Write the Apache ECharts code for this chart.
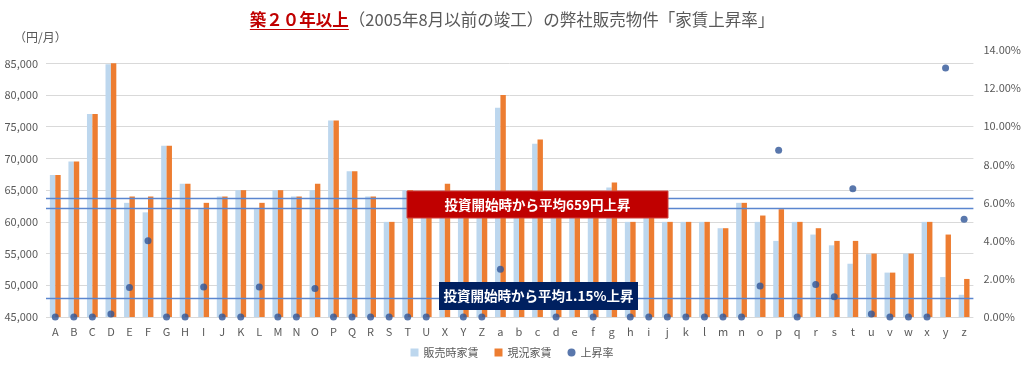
<!DOCTYPE html>
<html><head><meta charset="utf-8">
<script src="https://cdn.jsdelivr.net/npm/echarts@6/dist/echarts.min.js"></script>
<style>html,body{margin:0;padding:0;background:#fff}#c{width:1024px;height:369px}</style>
</head><body><div id="c"></div>
<script>
const categories = ['A','B','C','D','E','F','G','H','I','J','K','L','M','N','O','P','Q','R','S','T','U','X','Y','Z',
  'a','b','c','d','e','f','g','h','i','j','k','l','m','n','o','p','q','r','s','t','u','v','w','x','y','z'];
const saleRent = [67400,69500,77000,84870,63000,61500,72000,66000,62000,64000,65000,62000,65000,64000,65000,76000,68000,64000,60000,65000,63000,65000,63000,62000,
  78000,62000,72300,63000,61000,63000,65400,60000,62000,60000,60000,60000,59000,63000,60000,57000,60000,58000,56300,53400,54900,52000,55000,60000,51300,48500];
const currentRent = [67400,69500,77000,85000,64000,64000,72000,66000,63000,64000,65000,63000,65000,64000,66000,76000,68000,64000,60000,65000,63000,66000,63000,62000,
  80000,62600,73000,63000,61700,63000,66200,60000,62000,60000,60000,60000,59000,63000,61000,62000,60000,59000,57000,57000,55000,52000,55000,60000,58000,51000];
const riseRate = [0,0,0,0.16,1.55,4.0,0,0,1.57,0,0,1.57,0,0,1.5,0,0,0,0,0,0,1.5,0,0,
  2.5,1.0,1.0,0,1.1,0,1.2,0,0,0,0,0,0,0,1.62,8.75,0,1.71,1.06,6.72,0.16,0,0,0,13.05,5.12];
const seriesNames = ['販売時家賃','現況家賃','上昇率'];
const rentLines = [63700, 62200];
const rateLine = 1.0;
const titleMain = '築２０年以上';
const titleSub = '（2005年8月以前の竣工）の弊社販売物件「家賃上昇率」';
const unitLabel = '（円/月）';
const note1 = '投資開始時から平均659円上昇';
const note2 = '投資開始時から平均1.15%上昇';

const FONT = '"Noto Sans CJK JP", "Noto Sans", sans-serif';
const fontMain = 'bold 16.5px ' + FONT;
const fontSub = '16.5px ' + FONT;
const ctx = document.createElement('canvas').getContext('2d');
ctx.font = fontMain; const wMain = ctx.measureText(titleMain).width;
ctx.font = fontSub; const wSub = ctx.measureText(titleSub).width;
const tx0 = 512 - (wMain + wSub) / 2;

const chart = echarts.init(document.getElementById('c'));
const lineStyle = {color:'#5B86CF', width:1.3, type:'solid'};
chart.setOption({
  animation:false,
  textStyle:{fontFamily:FONT},
  legend:{
    data:[{name:seriesNames[0],icon:'rect'},{name:seriesNames[1],icon:'rect'},{name:seriesNames[2],icon:'circle'}],
    bottom:6, left:'center', itemWidth:8, itemHeight:8, itemGap:16,
    textStyle:{fontSize:11, color:'#595959', fontFamily:FONT}
  },
  grid:{left:46, right:48, top:50, bottom:52, containLabel:false},
  xAxis:{
    type:'category', data:categories,
    axisTick:{show:false},
    axisLine:{show:false},
    axisLabel:{color:'#595959', fontSize:11, margin:9, interval:0, fontFamily:FONT}
  },
  yAxis:[{
    type:'value', min:45000, max:87100, interval:5000,
    axisLine:{show:false}, axisTick:{show:false},
    axisLabel:{color:'#595959', fontSize:11, margin:8, showMaxLabel:false,
      formatter:v=> (v%5000===0 ? v.toLocaleString('en-US') : '')},
    splitLine:{show:true, showMaxLine:false, lineStyle:{color:'#D9D9D9', width:1}}
  },{
    type:'value', min:0, max:14, interval:2,
    axisLine:{show:false}, axisTick:{show:false},
    axisLabel:{color:'#595959', fontSize:11, margin:10, formatter:v=>v.toFixed(2)+'%'},
    splitLine:{show:false}
  }],
  series:[{
    name:seriesNames[0], type:'bar', data:saleRent, barWidth:5.4, barGap:'0%',
    itemStyle:{color:'#BDD7EE'},
    markLine:{silent:true, symbol:'none', label:{show:false}, lineStyle:lineStyle,
      data:rentLines.map(v=>({yAxis:v}))}
  },{
    name:seriesNames[1], type:'bar', data:currentRent, barWidth:5.4, barGap:'0%',
    itemStyle:{color:'#ED7D31'}
  },{
    name:seriesNames[2], type:'scatter', yAxisIndex:1, data:riseRate, symbolSize:7, z:5,
    itemStyle:{color:'#2F5597'},
    markLine:{silent:true, symbol:'none', label:{show:false}, lineStyle:lineStyle,
      data:[{yAxis:rateLine}]}
  }],
  graphic:[
    {type:'text', x:tx0, y:20, style:{text:titleMain, fill:'#C00000', font:fontMain, verticalAlign:'middle'}},
    {type:'line', shape:{x1:tx0, y1:29.5, x2:tx0+wMain, y2:29.5}, style:{stroke:'#C00000', lineWidth:1.2}},
    {type:'text', x:tx0+wMain, y:20, style:{text:titleSub, fill:'#595959', font:fontSub, verticalAlign:'middle'}},
    {type:'text', left:14, top:31, style:{text:unitLabel, fill:'#595959', font:'12px '+FONT}},
    {type:'rect', x:407, y:191, z:100, zlevel:1, shape:{x:0,y:0,width:261,height:27}, style:{fill:'#C00000', stroke:'#D0403A', lineWidth:1}},
    {type:'text', x:537.5, y:204.5, z:101, zlevel:1, style:{text:note1, fill:'#fff', font:'bold 13.5px '+FONT, align:'center', verticalAlign:'middle'}},
    {type:'rect', x:439, y:282, z:100, zlevel:1, shape:{x:0,y:0,width:199,height:28}, style:{fill:'#002060'}},
    {type:'text', x:538.5, y:296, z:101, zlevel:1, style:{text:note2, fill:'#fff', font:'bold 13.5px '+FONT, align:'center', verticalAlign:'middle'}}
  ]
});
</script>
</body></html>
